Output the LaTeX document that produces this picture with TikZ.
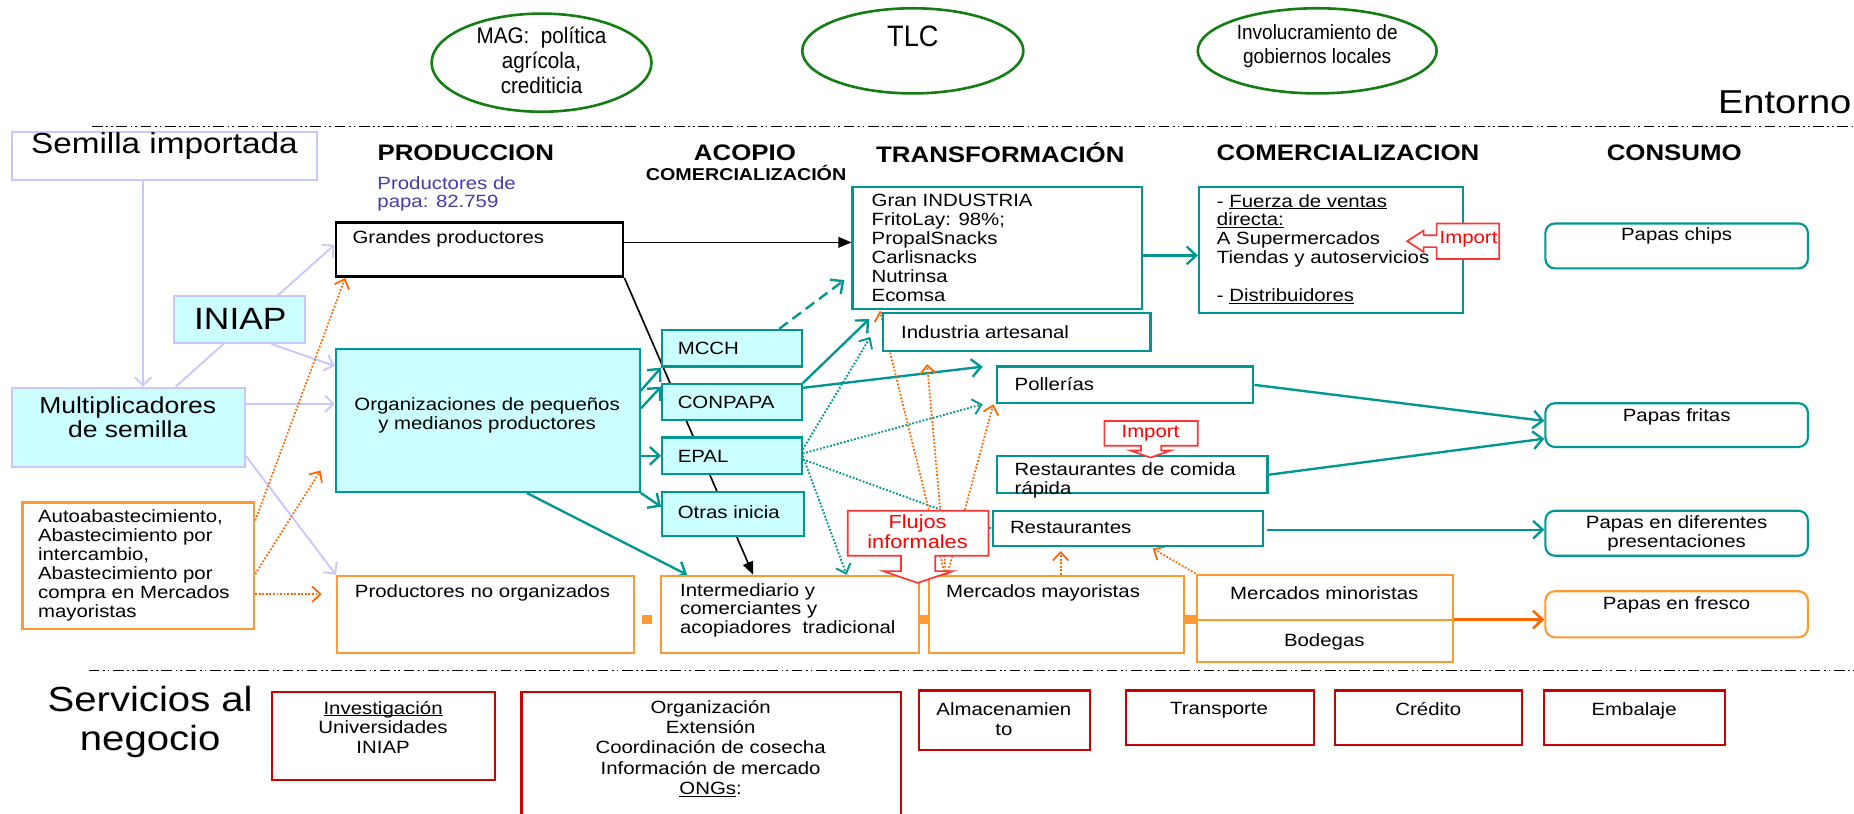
\documentclass[tikz,border=0pt]{standalone}
\usepackage{fontspec}
\setmainfont{Liberation Sans}[FakeStretch=1.15]
\newfontfamily\ellfont{Liberation Sans}[FakeStretch=0.92]
\usetikzlibrary{arrows.meta,fit,calc,shapes.geometric}
\pgfdeclarelayer{bg}
\pgfsetlayers{bg,main}
\newcommand\setfs[2]{\fontsize{#1}{#2}\selectfont}
% a thin underline that sits close to the baseline
\newcommand\ul[1]{\setbox0\hbox{#1}\rlap{\rule[-1.6pt]{\wd0}{0.8pt}}\box0}

\definecolor{tealc}{RGB}{0,150,145}
\definecolor{cyanfill}{RGB}{204,255,255}
\definecolor{lav}{RGB}{200,200,255}
\definecolor{orbox}{RGB}{255,153,51}
\definecolor{ordot}{RGB}{255,102,0}
\definecolor{svred}{RGB}{204,0,0}
\definecolor{calred}{RGB}{255,51,51}
\definecolor{elgreen}{RGB}{20,125,20}
\definecolor{purp}{RGB}{70,60,170}

\begin{document}
\begin{tikzpicture}[x=1pt,y=-1pt,
  box/.style={draw, line width=1.8pt, fill=white, inner sep=0pt},
  tealbox/.style={box, draw=tealc},
  cyanbox/.style={box, draw=tealc, fill=cyanfill},
  lavbox/.style={box, draw=lav},
  orgbox/.style={box, draw=orbox},
  svbox/.style={box, draw=svred},
  papabox/.style={box, draw=tealc, rounded corners=8pt},
  ell/.style={draw=elgreen, line width=2.2pt, ellipse, inner sep=0pt},
  elltxt/.style={inner sep=0pt, align=center, font=\ellfont\setfs{19}{21}},
  lbl/.style={inner sep=0pt, align=left, font=\setfs{15}{16}},
  clbl/.style={inner sep=0pt, align=center, font=\setfs{15}{16}},
  head/.style={inner sep=0pt, font=\bfseries\setfs{19}{21}},
  divline/.style={line width=1.5pt, dash pattern=on 9pt off 3pt on 1.5pt off 2.5pt on 1.5pt off 3pt},
  lavarr/.style={draw=lav, line width=1.6pt, -{Straight Barb[length=7pt,width=14pt]}},
  tealarr/.style={draw=tealc, line width=2pt, -{Straight Barb[length=8pt,width=15pt]}},
  tealdot/.style={draw=tealc, line width=1.6pt, dash pattern=on 1.5pt off 1.5pt, -{Straight Barb[length=7pt,width=13pt]}},
  orarr/.style={draw=ordot, line width=1.5pt, dash pattern=on 1.5pt off 1.5pt, -{Straight Barb[length=7pt,width=13pt]}},
  blkarr/.style={draw=black, line width=1.4pt, -{Triangle[length=11pt,width=9pt]}},
  callout/.style={draw=calred, line width=1.4pt, fill=white},
  caltxt/.style={inner sep=0pt, align=center, text=red, font=\setfs{15}{16}}
]
\useasboundingbox (0,0) rectangle (1568,688);

% ---------- environment ----------
\node[ell, minimum width=186pt, minimum height=83pt] (mag) at (458,53) {};
\node[elltxt] (magtxt) at (458,51) {MAG:\ \ política\\agrícola,\\crediticia};
\node[ell, minimum width=187pt, minimum height=72pt] (tlc) at (772,43) {};
\node[elltxt, font=\ellfont\setfs{25}{27}] (tlctxt) at (772,31) {TLC};
\node[ell, minimum width=202pt, minimum height=72pt] (inv) at (1114,43) {};
\node[elltxt, font=\ellfont\setfs{17.5}{20}] (invtxt) at (1114,39) {Involucramiento de\\gobiernos locales};
\node[inner sep=0pt, anchor=base east, font=\setfs{28}{30}] (entorno) at (1566,96) {Entorno};

\draw[divline] (78,107) -- (1568,107);
\draw[divline] (75,567) -- (1568,567);

% ---------- column headings ----------
\node[head] (hprod) at (394,129) {PRODUCCION};
\node[head] (hacop) at (630,129) {ACOPIO};
\node[head, font=\bfseries\setfs{14.5}{16}] (hacom) at (631,146) {COMERCIALIZACIÓN};
\node[head] (htrans) at (846,129) {TRANSFORMACIÓN};
\node[head] (hcom) at (1140,129) {COMERCIALIZACION};
\node[head] (hcons) at (1416,129) {CONSUMO};
\node[lbl, anchor=north west, text=purp, font=\setfs{15}{15.5}] (nprod) at (319,149) {Productores de\\papa: 82.759};

% ---------- seed supply ----------
\node[lavbox, fit={(10,112)(268,152)}, font=\setfs{24.5}{27}] (semilla) {Semilla importada};
\node[lavbox, fill=cyanfill, fit={(147,250)(258,290)}] (iniap) {};
\node[inner sep=0pt, anchor=west, font=\setfs{26}{28}] (iniaptxt) at (164,270) {INIAP};
\node[lavbox, fill=cyanfill, fit={(10,328)(207,395)}] (mult) {};
\node[clbl, font=\setfs{19.5}{20.5}] (multtxt) at (108,353) {Multiplicadores\\de semilla};
\node[orgbox, fit={(19,425)(215,532)}] (auto) {};
\node[lbl, anchor=north west] (autotxt) at (32,431) {Autoabastecimiento,\\Abastecimiento por\\intercambio,\\Abastecimiento por\\compra en Mercados\\mayoristas};

% ---------- production ----------
\node[box, line width=2.2pt, fit={(284,188)(527,234)}] (gp) {};
\node[lbl, anchor=north west] (gptxt) at (298,195) {Grandes productores};
\node[cyanbox, fit={(284,295)(541,416)}] (org) {};
\node[clbl] (orgtxt) at (412,351) {Organizaciones de pequeños\\y medianos productores};
\node[orgbox, fit={(285,487)(536,552)}] (prodno) {};
\node[lbl, anchor=north west] (prodnotxt) at (300,494) {Productores no organizados};

% ---------- collection ----------
\node[cyanbox, fit={(560,279)(678,310)}] (mcch) {};
\node[lbl, anchor=west] (mcchtxt) at (573,295) {MCCH};
\node[cyanbox, fit={(560,325)(678,355)}] (conpapa) {};
\node[lbl, anchor=west] (conpapatxt) at (573,340) {CONPAPA};
\node[cyanbox, fit={(560,370)(678,401)}] (epal) {};
\node[lbl, anchor=west] (epaltxt) at (573,386) {EPAL};
\node[cyanbox, fit={(560,416)(680,453)}] (otras) {};
\node[lbl, anchor=west] (otrastxt) at (573,433) {Otras inicia};
\node[orgbox, fit={(559,487)(777,552)}] (inter) {};
\node[lbl, anchor=north west] (intertxt) at (575,493) {Intermediario y\\comerciantes y\\acopiadores\ \ tradicional};
\node[orgbox, fit={(786,487)(1001,552)}] (may) {};
\node[lbl, anchor=north west] (maytxt) at (800,494) {Mercados mayoristas};
\node[orgbox, fit={(1012,486)(1229,560)}] (mino) {};
\node[clbl] (minotxt) at (1120,502) {Mercados minoristas};
\node[clbl] (bodtxt) at (1120,543) {Bodegas};
\draw[orbox, line width=1.8pt] (mino.west |- 0,524) -- (mino.east |- 0,524);
\fill[orbox] (543,520) rectangle (551,528);
\fill[orbox] (777,520) rectangle (786,528);
\fill[orbox] (1001,520) rectangle (1012,528);

% ---------- transformation ----------
\node[tealbox, fit={(721,158)(966,261)}] (gi) {};
\node[lbl, anchor=north west] (gitxt) at (737,164) {Gran INDUSTRIA\\FritoLay: 98\%;\\PropalSnacks\\Carlisnacks\\Nutrinsa\\Ecomsa};
\node[tealbox, fit={(747,265)(973,297)}] (art) {};
\node[lbl, anchor=west] (arttxt) at (762,281) {Industria artesanal};
\node[tealbox, fit={(843,310)(1060,341)}] (pol) {};
\node[lbl, anchor=west] (poltxt) at (858,325) {Pollerías};
\node[tealbox, fit={(843,386)(1072,417)}] (rcr) {};
\node[lbl, anchor=north west] (rcrtxt) at (858,391) {Restaurantes de comida\\rápida};
\node[tealbox, fit={(840,432)(1068,462)}] (rest) {};
\node[lbl, anchor=west] (resttxt) at (854,446) {Restaurantes};

% ---------- marketing ----------
\node[tealbox, fit={(1014,158)(1237,265)}] (fuerza) {};
\node[lbl, anchor=north west] (fuerzatxt) at (1029,164) {- \ul{Fuerza de ventas}\\\ul{directa:}\\A Supermercados\\Tiendas y autoservicios\\[16pt]- \ul{Distribuidores}};

% ---------- consumption ----------
\node[papabox, fit={(1307,189)(1529,227)}] (chips) {};
\node[clbl, anchor=north] (chipstxt) at (1418,192) {Papas chips};
\node[papabox, fit={(1307,341)(1529,378)}] (fritas) {};
\node[clbl, anchor=north] (fritastxt) at (1418,345) {Papas fritas};
\node[papabox, fit={(1307,432)(1529,470)}] (dif) {};
\node[clbl] (diftxt) at (1418,451) {Papas en diferentes\\presentaciones};
\node[papabox, draw=orbox, fit={(1307,500)(1529,539)}] (fresco) {};
\node[clbl, anchor=north] (frescotxt) at (1418,504) {Papas en fresco};

% ---------- business services ----------
\node[clbl, font=\setfs{29.5}{33}] (serv) at (127,611) {Servicios al\\negocio};
\node[svbox, fit={(230,585)(419,660)}] (sinv) {};
\node[clbl, anchor=north, font=\setfs{15}{16.5}] (sinvtxt) at (324,593) {\ul{Investigación}\\Universidades\\INIAP};
\node[svbox, fit={(441,585)(762,700)}] (sorg) {};
\node[clbl, anchor=north, font=\setfs{15}{17.2}] (sorgtxt) at (601,592) {Organización\\Extensión\\Coordinación de cosecha\\Información de mercado\\\ul{ONGs}:};
\node[svbox, fit={(777,584)(922,634)}] (salm) {};
\node[clbl, anchor=north, font=\setfs{15}{17}] (salmtxt) at (849,594) {Almacenamien\\to};
\node[svbox, fit={(952,584)(1111,630)}] (stra) {};
\node[clbl, anchor=north] (stratxt) at (1031,594) {Transporte};
\node[svbox, fit={(1129,584)(1287,630)}] (scre) {};
\node[clbl, anchor=north] (scretxt) at (1208,594) {Crédito};
\node[svbox, fit={(1306,584)(1459,630)}] (semb) {};
\node[clbl, anchor=north] (sembtxt) at (1382,594) {Embalaje};

% ---------- callouts ----------
\draw[callout] (1215,189) -- (1268,189) -- (1268,219) -- (1215,219) -- (1215,209)
  -- (1204,209) -- (1204,213) -- (1190,204) -- (1204,195) -- (1204,199) -- (1215,199) -- cycle;
\node[caltxt] (imp1) at (1242,202) {Import};
\draw[callout] (934,356) -- (1013,356) -- (1013,377) -- (982,377) -- (982,381)
  -- (990,381) -- (973,387) -- (956,381) -- (965,381) -- (965,377) -- (934,377) -- cycle;
\node[caltxt] (imp2) at (973,366) {Import};

% ---------- flows ----------
\begin{pgfonlayer}{bg}
  % seed
  \draw[lavarr] ([xshift=-18pt]semilla.south) -- ([xshift=12.5pt]mult.north);
  \draw[lavarr] ([xshift=40pt]mult.north) -- ([yshift=4pt]gp.west);
  \draw[lavarr] ([xshift=27pt]iniap.south) -- ([yshift=46pt]org.west);
  \draw[lavarr] ([yshift=20pt]mult.east) -- ([yshift=20pt]mult.east -| org.west);
  \draw[lavarr] ([yshift=-24pt]mult.east) -- (prodno.north west);
  % own supply
  \draw[orarr] ([yshift=-16pt]auto.north east) -- ([xshift=9pt]gp.south west);
  \draw[orarr] ([yshift=-7pt]auto.east) -- ($(org.south west)+(-12,-19)$);
  \draw[orarr, shorten >=12pt] ([yshift=-24pt]auto.east) -- ([yshift=-24pt]auto.east -| prodno.west);
  % large producers
  \draw[blkarr] ([yshift=6pt]gp.east) -- ([yshift=6pt]gp.east -| gi.west);
  \draw[blkarr] (gp.south east) -- ([xshift=-31pt]inter.north);
  % organisations
  \draw[tealarr] ([yshift=25pt]org.east) -- (mcch.south west);
  \draw[tealarr] ([yshift=10pt]org.east) -- ([yshift=13pt]conpapa.west);
  \draw[tealarr] ([yshift=-30pt]org.east) -- ([yshift=-30pt]org.east -| epal.west);
  \draw[tealarr] (org.south east) -- ([yshift=6pt]otras.west);
  \draw[tealarr] ([xshift=33pt]org.south) -- ([xshift=23pt]inter.north west);
  \draw[tealarr, dash pattern=on 9pt off 5pt] ([xshift=40pt]mcch.north) -- ([xshift=-6pt,yshift=25pt]gi.south west);
  \draw[tealarr] (conpapa.north east) -- ([xshift=15pt,yshift=-8pt]gi.south west);
  \draw[tealarr] ([yshift=12pt]conpapa.east) -- ([xshift=-11pt,yshift=-1pt]pol.north west);
  \draw[tealdot] ([yshift=-11pt]epal.north east) -- ([xshift=-10pt,yshift=-4pt]art.west);
  \draw[tealdot] ([yshift=2pt]epal.east) -- ([xshift=-11pt]pol.south west);
  \draw[tealdot] (epal.east) -- ([xshift=48pt]inter.north);
  \draw[draw=tealc, line width=1.6pt, dash pattern=on 1.5pt off 1.5pt] ([yshift=-3pt]epal.east) -- (rest.west);
  % informal flows from wholesale markets
  \draw[orarr] ([xshift=14pt]may.north west) -- ([xshift=24pt,yshift=-1pt]gi.south west);
  \draw[orarr] ([xshift=15pt]may.north west) -- ([xshift=38pt,yshift=-10pt]art.south west);
  \draw[orarr] ([xshift=16pt]may.north west) -- ([xshift=-2pt]pol.south west);
  \draw[orarr, shorten >=3pt] ([xshift=3.5pt]may.north) -- ([xshift=3.5pt]may.north |- rest.south);
  \draw[orarr] (mino.north west) -- ([xshift=21pt,yshift=-1pt]rest.south);
  % to consumption
  \draw[tealarr] ([yshift=-6.5pt]gi.east) -- ([yshift=-6.5pt]gi.east -| fuerza.west);
  \draw[tealarr] (pol.east) -- ([yshift=3.5pt]fritas.west);
  \draw[tealarr] (rcr.east) -- ([yshift=-11.5pt]fritas.west);
  \draw[tealarr, shorten <=3pt] ([yshift=-1pt]rest.east) -- ([yshift=-1pt]rest.east -| dif.west);
  \draw[draw=ordot, line width=2.2pt, -{Straight Barb[length=8pt,width=15pt]}] (mino.east |- 0,524) -- (fresco.west |- 0,524);
\end{pgfonlayer}

% informal flows callout, drawn over the flows it labels
\draw[callout] (717,432) -- (836,432) -- (836,470) -- (791,470) -- (791,483)
  -- (806,483) -- (776,493) -- (747,483) -- (762,483) -- (762,470) -- (717,470) -- cycle;
\node[caltxt, font=\setfs{16}{17}] (flujos) at (776,450) {Flujos\\informales};
\end{tikzpicture}
\end{document}
